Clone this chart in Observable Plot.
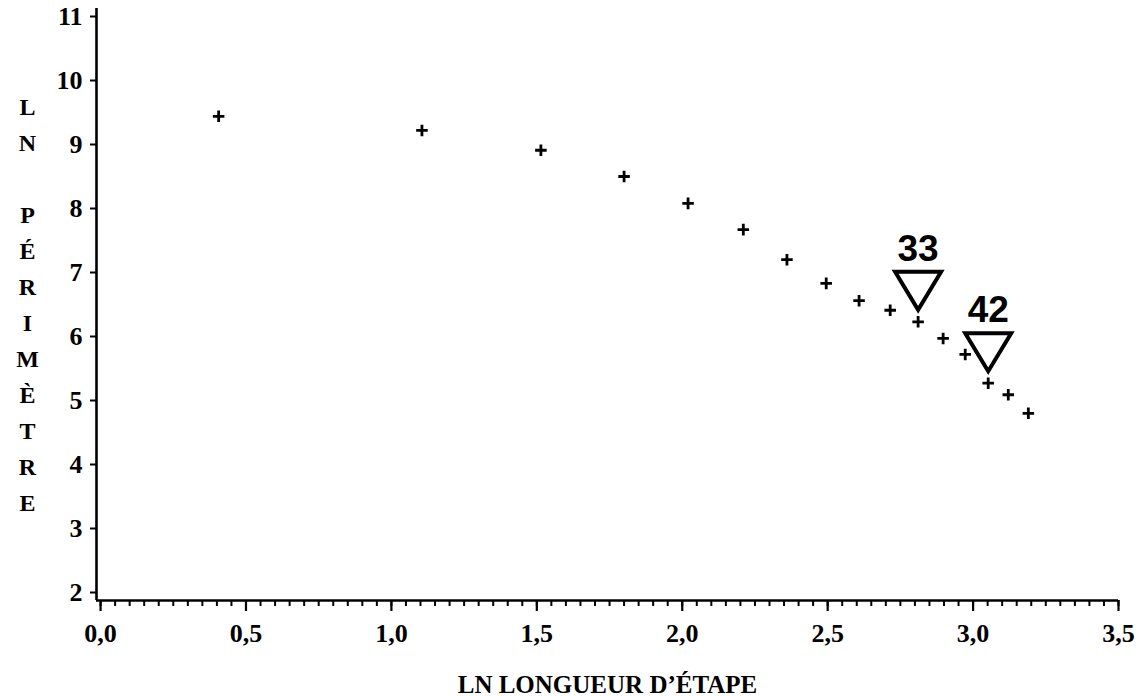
<!DOCTYPE html>
<html>
<head>
<meta charset="utf-8">
<script src="https://cdn.jsdelivr.net/npm/d3@7"></script>
<script src="https://cdn.jsdelivr.net/npm/@observablehq/plot@0.6"></script>
<style>
  html, body { margin: 0; padding: 0; background: white; }
</style>
</head>
<body>
<div id="chart"></div>
<script>
// Data
const lnLongueur  = [0.406, 1.105, 1.514, 1.80, 2.02, 2.21, 2.36, 2.495, 2.608, 2.715, 2.811, 2.897, 2.973, 3.052, 3.121, 3.19];
const lnPerimetre = [9.44, 9.22, 8.91, 8.50, 8.08, 7.67, 7.20, 6.83, 6.56, 6.41, 6.23, 5.97, 5.72, 5.27, 5.09, 4.80];

const markerLabels = ["33", "42"];
const markerX = [2.811, 3.052];
const markerY = [6.23, 5.27];

const xTicks = [0, 0.5, 1.0, 1.5, 2.0, 2.5, 3.0, 3.5];
const yTicks = [2, 3, 4, 5, 6, 7, 8, 9, 10, 11];
const xMinorTicks = d3.range(0, 71).map(i => i * 0.05);

const xTitle = "LN LONGUEUR D\u2019ÉTAPE";
const yTitle = "L\nN\n\nP\nÉ\nR\nI\nM\nÈ\nT\nR\nE";

const xDomain = [-0.014, 3.5];
const yDomain = [1.875, 11.125];

const points = lnLongueur.map((x, i) => ({x, y: lnPerimetre[i]}));
const markers = markerLabels.map((label, i) => ({label, x: markerX[i], y: markerY[i]}));

// Downward triangle, apex just above the point
const downTriangle = {
  draw(context) {
    context.moveTo(-23, -50);
    context.lineTo(23, -50);
    context.lineTo(0, -12);
    context.closePath();
  }
};

const serif = "'Liberation Serif', 'Times New Roman', serif";
const sans = "'Liberation Sans', Arial, sans-serif";

const chart = Plot.plot({
  width: 1139,
  height: 696,
  marginLeft: 96,
  marginRight: 21,
  marginTop: 8,
  marginBottom: 96,
  x: {domain: xDomain},
  y: {domain: yDomain},
  style: {fontFamily: serif, fontSize: "26px", fontWeight: "bold", background: "white", color: "black"},
  marks: [
    Plot.axisX(xMinorTicks, {tickSize: 6, text: null, strokeWidth: 2, label: null}),
    Plot.axisX(xTicks, {
      tickSize: 11, tickPadding: 12, strokeWidth: 2.2, label: null,
      tickFormat: d => d.toFixed(1).replace(".", ",")
    }),
    Plot.axisY(yTicks, {
      tickSize: 6, tickPadding: 8, strokeWidth: 2, label: null,
      tickFormat: d => String(d)
    }),
    Plot.ruleX([xDomain[0]], {strokeWidth: 2.6, stroke: "black"}),
    Plot.ruleY([yDomain[0]], {strokeWidth: 2.6, stroke: "black"}),
    Plot.dot(points, {x: "x", y: "y", symbol: "plus", r: 3.8, stroke: "black", strokeWidth: 2.8}),
    Plot.dot(markers, {x: "x", y: "y", symbol: downTriangle, r: 5, stroke: "black", fill: "none", strokeWidth: 4, strokeLinejoin: "miter"}),
    Plot.text(markers, {x: "x", y: "y", text: "label", dy: -61, lineAnchor: "bottom", fontFamily: sans, fontWeight: "bold", fontSize: 37, fill: "black"}),
    Plot.text([yTitle], {
      text: d => d, frameAnchor: "left", dx: -69, dy: -3, textAnchor: "middle",
      lineHeight: 1.5, fontSize: 24, fontWeight: "bold", fill: "black"
    }),
    Plot.text([xTitle], {
      text: d => d, frameAnchor: "bottom", dy: 92, lineAnchor: "bottom",
      fontSize: 25, fontWeight: "bold", fill: "black"
    })
  ]
});

document.getElementById("chart").appendChild(chart);
</script>
</body>
</html>
